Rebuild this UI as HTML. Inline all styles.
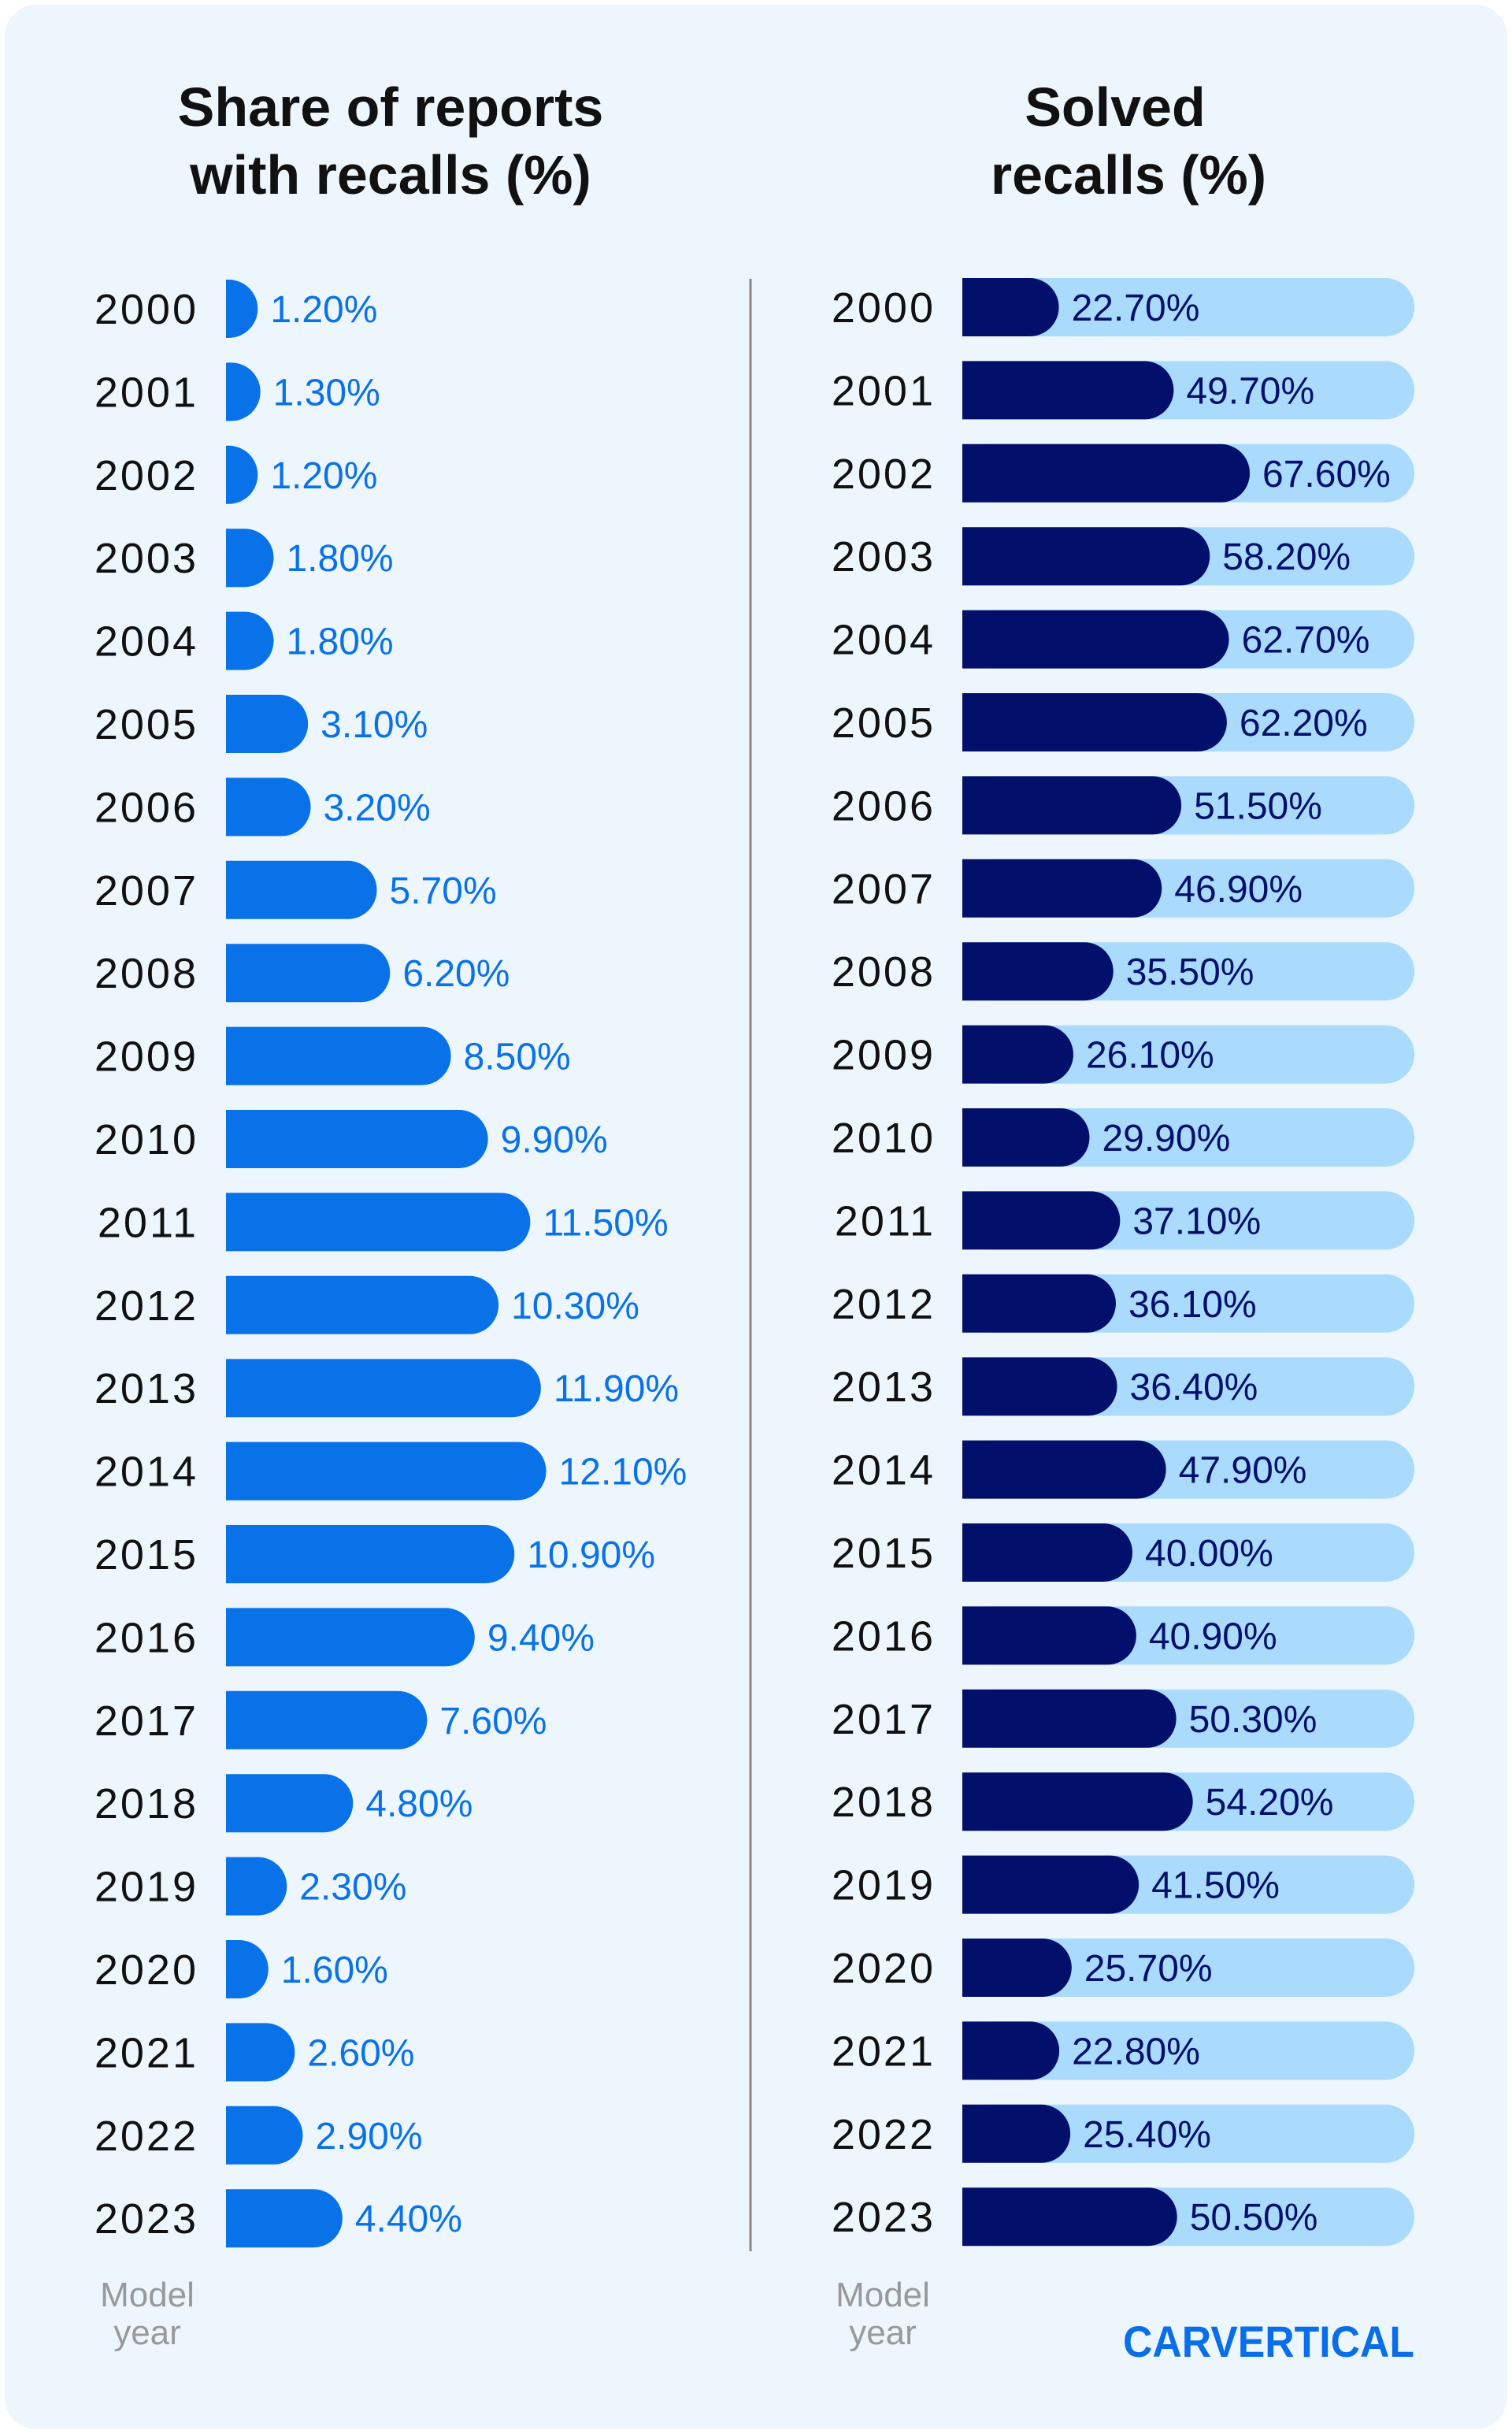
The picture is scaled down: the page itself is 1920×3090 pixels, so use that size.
<!DOCTYPE html>
<html><head><meta charset="utf-8"><style>
html,body{margin:0;padding:0;background:#fff;}
svg{display:block;}
text{font-family:"Liberation Sans",sans-serif;}
</style></head><body>
<svg id="chart" width="1920" height="3090" viewBox="0 0 1920 3090" xmlns="http://www.w3.org/2000/svg">
<rect x="6" y="6" width="1908" height="3078" rx="40" fill="#eef6fd"/>
<g>
<text x="496" y="160" font-size="70" font-weight="bold" text-anchor="middle" fill="#111">Share of reports</text>
<text x="496" y="246" font-size="70" font-weight="bold" text-anchor="middle" fill="#111">with recalls (%)</text>
</g>
<g>
<text x="1416" y="160" font-size="70" font-weight="bold" text-anchor="middle" fill="#111">Solved</text>
<text x="1433" y="246" font-size="70" font-weight="bold" text-anchor="middle" fill="#111">recalls (%)</text>
</g>
<line x1="953" y1="354" x2="953" y2="2858" stroke="#888" stroke-width="3"/>
<g id="left"></g>
<g id="right"></g>
<g>
<text x="187" y="2928" font-size="44" text-anchor="middle" fill="#999">Model</text>
<text x="187" y="2976" font-size="44" text-anchor="middle" fill="#999">year</text>
</g>
<g>
<text x="1121" y="2928" font-size="44" text-anchor="middle" fill="#999">Model</text>
<text x="1121" y="2976" font-size="44" text-anchor="middle" fill="#999">year</text>
</g>
<text x="1426" y="2992" font-size="56" font-weight="bold" fill="#0a6ee8" textLength="370" lengthAdjust="spacingAndGlyphs">CARVERTICAL</text>
</svg>
<script>
const years = [2000,2001,2002,2003,2004,2005,2006,2007,2008,2009,2010,2011,2012,2013,2014,2015,2016,2017,2018,2019,2020,2021,2022,2023];
const shareValues = [1.2,1.3,1.2,1.8,1.8,3.1,3.2,5.7,6.2,8.5,9.9,11.5,10.3,11.9,12.1,10.9,9.4,7.6,4.8,2.3,1.6,2.6,2.9,4.4];
const solvedValues = [22.7,49.7,67.6,58.2,62.7,62.2,51.5,46.9,35.5,26.1,29.9,37.1,36.1,36.4,47.9,40.0,40.9,50.3,54.2,41.5,25.7,22.8,25.4,50.5];
const trackMax = 106.3;

const NS = "http://www.w3.org/2000/svg";
const rowY = i => 392 + i * 105.4;
const barH = 74;
const xLeft = v => v * 33.6;
const xRight = v => v * 5.40;
function mk(tag, attrs, parent, txt) {
  const e = document.createElementNS(NS, tag);
  for (const k in attrs) e.setAttribute(k, attrs[k]);
  if (txt !== undefined) e.textContent = txt;
  parent.appendChild(e);
  return e;
}
function rbar(x, y, w, h, fill, parent) {
  const r = h / 2;
  let d;
  if (w <= r) {
    d = `M${x},${y} A${w},${r} 0 0 1 ${x},${y + h} Z`;
  } else {
    d = `M${x},${y} H${x + w - r} A${r},${r} 0 0 1 ${x + w - r},${y + h} H${x} Z`;
  }
  return mk("path", { d: d, fill: fill }, parent);
}
const L = document.getElementById("left");
const R = document.getElementById("right");
years.forEach((yr, i) => {
  const cy = rowY(i);
  const ly = mk("text", { x: 252, y: cy + 19, "font-size": 54, "text-anchor": "end", fill: "#111", "letter-spacing": "3" }, L, String(yr));
  
  
  const w = xLeft(shareValues[i]);
  const b = rbar(287, cy - barH / 2, w, barH, "#0a72e8", L);
  
  
  const lv = mk("text", { x: 287 + w + 16, y: cy + 17, "font-size": 48, fill: "#0a72e8" }, L, shareValues[i].toFixed(2) + "%");
  
  

  const ry = mk("text", { x: 1188, y: cy + 17, "font-size": 54, "text-anchor": "end", fill: "#111", "letter-spacing": "3" }, R, String(yr));
  
  
  const t = mk("rect", { x: 1222, y: cy - 2 - barH / 2, width: xRight(trackMax), height: barH, rx: barH / 2, fill: "#aadafc" }, R);
  
  
  const w2 = xRight(solvedValues[i]);
  const b2 = rbar(1222, cy - 2 - barH / 2, w2, barH, "#02106b", R);
  
  
  const rv = mk("text", { x: 1222 + w2 + 16, y: cy + 15, "font-size": 48, fill: "#02106b" }, R, solvedValues[i].toFixed(2) + "%");
  
  
});
</script>
</body></html>
